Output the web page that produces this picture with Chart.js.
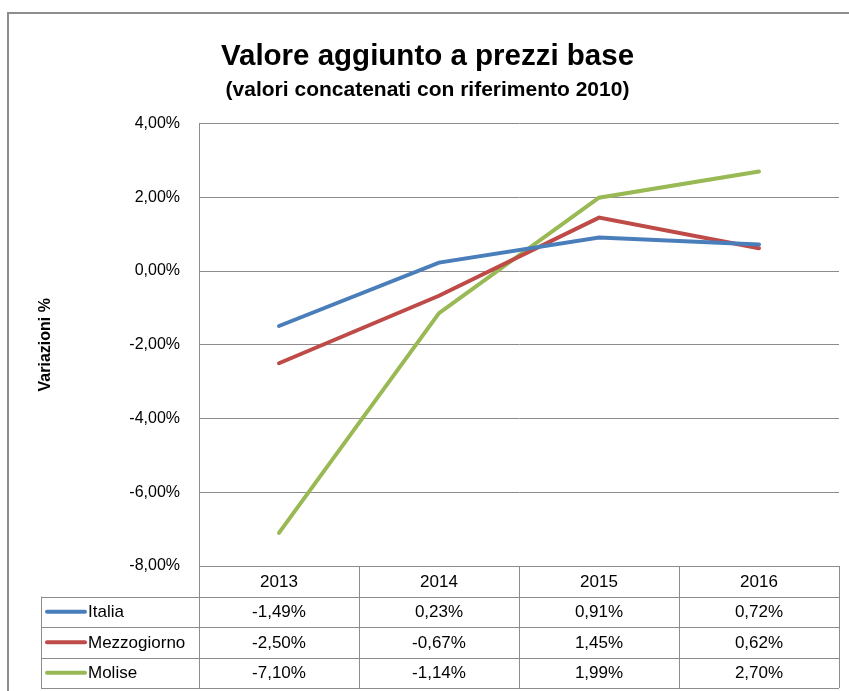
<!DOCTYPE html>
<html>
<head>
<meta charset="utf-8">
<script src="https://cdn.jsdelivr.net/npm/chart.js@4"></script>
<style>
  body { margin: 0; background: #fff; }
</style>
</head>
<body>
<canvas id="myChart" width="849" height="691"></canvas>
<script>
var years = ['2013', '2014', '2015', '2016'];
var seriesNames = ['Italia', 'Mezzogiorno', 'Molise'];
var italia = [-1.49, 0.23, 0.91, 0.72];
var mezzogiorno = [-2.50, -0.67, 1.45, 0.62];
var molise = [-7.10, -1.14, 1.99, 2.70];
var seriesColors = ['#4a7ebb', '#be4b48', '#98b954'];
var yTicks = { min: -8, max: 4, step: 2 };

var gridGray = '#8c8c8c';
var font = 'Liberation Sans';

function pct(v) {
    return v.toFixed(2).replace('.', ',') + '%';
}

// outer frame like the Excel chart area
var framePlugin = {
    id: 'frame',
    beforeDraw: function(chart) {
        var c = chart.ctx;
        c.save();
        c.strokeStyle = '#8d8d8d';
        c.lineWidth = 2;
        c.beginPath();
        c.moveTo(8, 691);
        c.lineTo(8, 13);
        c.lineTo(849, 13);
        c.stroke();
        c.restore();
    }
};

// data table under the plot
var tablePlugin = {
    id: 'dataTable',
    afterDraw: function(chart) {
        var c = chart.ctx;
        var area = chart.chartArea;
        var x = chart.scales.x;
        var colW = (area.right - area.left) / years.length;
        var rowH = 30.5;
        var top = area.bottom;
        var nRows = chart.data.datasets.length;
        var bottom = top + rowH * (nRows + 1);
        var legendLeft = 41;

        c.save();
        c.strokeStyle = gridGray;
        c.lineWidth = 1;
        c.beginPath();
        // horizontal lines
        for (var r = 1; r <= nRows + 1; r++) {
            var yy = Math.round(top + rowH * r) + 0.5;
            c.moveTo(legendLeft, yy);
            c.lineTo(area.right, yy);
        }
        // vertical lines
        for (var i = 0; i <= years.length; i++) {
            var xx = Math.round(area.left + colW * i) + 0.5;
            c.moveTo(xx, top);
            c.lineTo(xx, bottom);
        }
        c.moveTo(legendLeft + 0.5, top + rowH);
        c.lineTo(legendLeft + 0.5, bottom);
        c.stroke();

        c.fillStyle = '#000';
        c.font = '17px "' + font + '"';
        c.textAlign = 'center';
        c.textBaseline = 'middle';
        years.forEach(function(y, i) {
            c.fillText(y, x.getPixelForValue(i), top + rowH / 2 + 1);
        });

        chart.data.datasets.forEach(function(ds, r) {
            var cy = top + rowH * (r + 1.5) + 1;
            c.strokeStyle = ds.borderColor;
            c.lineWidth = 4;
            c.lineCap = 'round';
            c.beginPath();
            c.moveTo(47, cy - 1);
            c.lineTo(85, cy - 1);
            c.stroke();
            c.textAlign = 'left';
            c.fillText(ds.label, 88, cy);
            c.textAlign = 'center';
            ds.data.forEach(function(v, i) {
                c.fillText(pct(v), x.getPixelForValue(i), cy);
            });
        });
        c.restore();
    }
};

var values = [italia, mezzogiorno, molise];

var ctx = document.getElementById('myChart').getContext('2d');
var myChart = new Chart(ctx, {
    type: 'line',
    data: {
        labels: years,
        datasets: seriesNames.map(function(name, i) {
            return {
                label: name,
                data: values[i],
                borderColor: seriesColors[i],
                backgroundColor: seriesColors[i],
                borderWidth: 4,
                pointRadius: 0,
                tension: 0,
                borderCapStyle: 'round'
            };
        })
    },
    options: {
        responsive: false,
        animation: false,
        devicePixelRatio: 1,
        layout: {
            padding: { left: 16, right: 10, top: 0, bottom: 125 }
        },
        plugins: {
            legend: { display: false },
            tooltip: { enabled: false },
            title: {
                display: true,
                text: 'Valore aggiunto a prezzi base',
                color: '#000',
                font: { family: font, size: 29.5, weight: 'bold' },
                padding: { top: 39, bottom: 0 }
            },
            subtitle: {
                display: true,
                text: '(valori concatenati con riferimento 2010)',
                color: '#000',
                font: { family: font, size: 21, weight: 'bold' },
                padding: { top: 3, bottom: 21 }
            }
        },
        scales: {
            x: {
                offset: true,
                grid: { display: false },
                border: { display: false },
                ticks: { display: false },
                afterFit: function(scale) { scale.height = 0; }
            },
            y: {
                min: yTicks.min,
                max: yTicks.max,
                afterFit: function(scale) { scale.width = 183; },
                ticks: {
                    stepSize: yTicks.step,
                    color: '#000',
                    padding: 19,
                    font: { family: font, size: 16 },
                    callback: function(v) { return pct(v); }
                },
                grid: { color: gridGray, drawTicks: false },
                border: { color: gridGray },
                title: {
                    display: true,
                    text: 'Variazioni %',
                    color: '#000',
                    font: { family: font, size: 16, weight: 'bold' },
                    padding: { top: 20, bottom: 0 }
                }
            }
        }
    },
    plugins: [framePlugin, tablePlugin]
});
</script>
</body>
</html>
